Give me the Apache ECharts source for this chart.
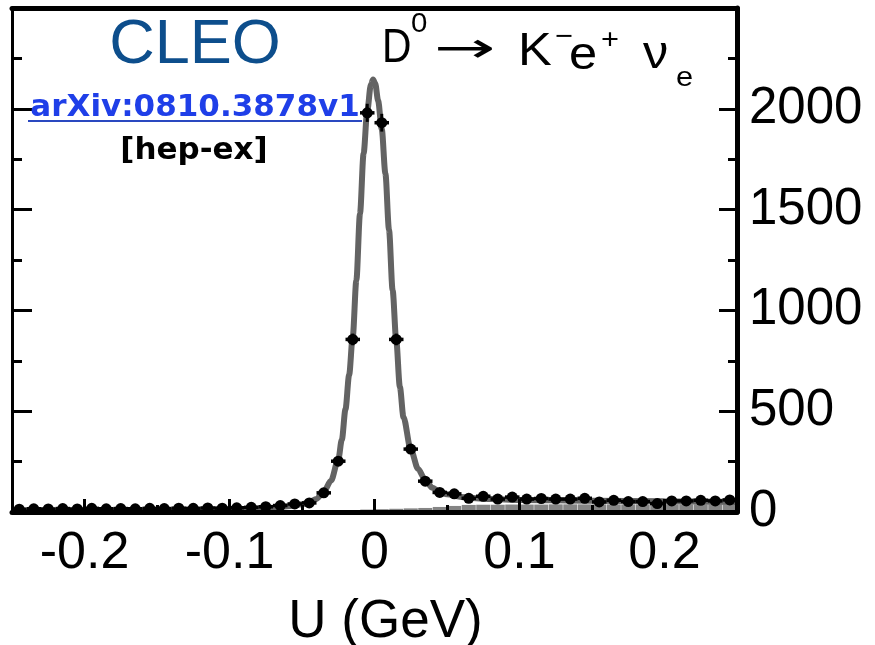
<!DOCTYPE html>
<html><head><meta charset="utf-8">
<script src="https://cdn.jsdelivr.net/npm/echarts@6/dist/echarts.min.js"></script>
<style>html,body{margin:0;padding:0;background:#fff}#c{width:875px;height:645px}</style>
</head><body><div id="c"></div>
<script>
// ---- data ----
const binCenters = [-0.245,-0.235,-0.225,-0.215,-0.205,-0.195,-0.185,-0.175,-0.165,-0.155,-0.145,-0.135,-0.125,-0.115,-0.105,-0.095,-0.085,-0.075,-0.065,-0.055,-0.045,-0.035,-0.025,-0.015,-0.005,0.005,0.015,0.025,0.035,0.045,0.055,0.065,0.075,0.085,0.095,0.105,0.115,0.125,0.135,0.145,0.155,0.165,0.175,0.185,0.195,0.205,0.215,0.225,0.235,0.245];
const counts = [14,16,15,17,15,18,16,17,16,18,17,19,18,20,19,21,23,26,32,40,45,95,252,856,1980,1931,856,312,153,97,90,68,78,64,74,64,67,64,64,68,50,58,52,52,42,55,55,58,55,60];
const countErr = [4,4,4,4,4,4,4,4,4,4,4,4,4,4,4,5,5,5,6,6,7,10,16,29,45,44,29,18,12,10,9,8,9,8,9,8,8,8,8,8,7,8,7,7,6,7,7,8,7,8];
const bgCounts = [0,0,0,0,0,0,0,0,0,0,0,0,0,0,0,0,0,0,0,3,5,6,8,10,12,14,16,18,20,25,30,35,36,36,37,37,37,38,38,38,38,38,38,38,38,38,38,38,38,38];
const curveU = [-0.25,-0.2,-0.15,-0.1,-0.08,-0.07,-0.06,-0.05,-0.045,-0.04,-0.035,-0.03,-0.025,-0.0225,-0.02,-0.0175,-0.015,-0.0125,-0.01,-0.0075,-0.005,-0.0025,-0.001,0.0005,0.0025,0.005,0.0075,0.01,0.0125,0.015,0.0175,0.02,0.025,0.03,0.035,0.04,0.045,0.05,0.06,0.07,0.08,0.1,0.15,0.2,0.25];
const curveY = [3,5,7,12,17,21,28,38,48,65,100,155,260,360,510,680,870,1150,1480,1780,1990,2120,2145,2125,2040,1900,1680,1400,1100,850,620,470,310,215,158,120,100,88,75,68,64,60,56,53,50];
const xTickValues = [-0.2,-0.1,0,0.1,0.2];
const xMinorTickValues = [-0.15,-0.05,0.05,0.15];
const yTickLabels = [0,500,1000,1500,2000];
const binHalfWidth = 0.005;

const chart = echarts.init(document.getElementById('c'), null, {renderer:'canvas'});
const FONT = '"Liberation Sans", Arial, Helvetica, sans-serif';

const pts = binCenters.map((u,i)=>[u, counts[i], countErr[i]]);

function txt(text,x,y,size,sx,font){
  return {type:'text',z:20,scaleX:sx||1,x:x,y:y,
    style:{text:text,x:0,y:0,align:'left',verticalAlign:'middle',fontSize:size,fontFamily:font||FONT,fill:'#000'}};
}

const option = {
  animation:false,
  grid:{left:12,right:138,top:8,bottom:133,containLabel:false,outerBoundsMode:'none'},
  xAxis:[
    {type:'value',min:-0.25,max:0.25,position:'bottom',z:10,
     axisLine:{show:true,onZero:false,lineStyle:{color:'#000',width:5}},
     axisTick:{show:true,inside:true,length:13,customValues:xTickValues,lineStyle:{color:'#000',width:3}},
     axisLabel:{show:true,customValues:xTickValues,margin:16,color:'#000',fontSize:52,fontFamily:FONT,
       formatter:v=>v===0?'0':(v<0?'-':'')+Math.abs(v).toFixed(1)},
     splitLine:{show:false},
     name:'U (GeV)',nameLocation:'middle',nameGap:84,
     nameTextStyle:{color:'#000',fontSize:53,fontFamily:FONT,padding:[0,0,0,22]}},
    {type:'value',min:-0.25,max:0.25,position:'bottom',z:10,
     axisLine:{show:false},
     axisTick:{show:true,inside:true,length:7,customValues:xMinorTickValues,lineStyle:{color:'#000',width:3}},
     axisLabel:{show:false},splitLine:{show:false}},
    {type:'value',min:-0.25,max:0.25,position:'top',z:10,
     axisLine:{show:true,onZero:false,lineStyle:{color:'#000',width:5}},
     axisTick:{show:false},axisLabel:{show:false},splitLine:{show:false}}
  ],
  yAxis:[
    {type:'value',min:0,max:2500,interval:500,position:'right',z:10,
     axisLine:{show:true,onZero:false,lineStyle:{color:'#000',width:5}},
     axisTick:{show:true,inside:true,length:18,lineStyle:{color:'#000',width:3}},
     minorTick:{show:true,splitNumber:2,length:9,lineStyle:{color:'#000',width:3}},
     axisLabel:{show:true,customValues:yTickLabels,margin:12,color:'#000',fontSize:51,fontFamily:FONT,
       formatter:v=>String(v)},
     splitLine:{show:false},minorSplitLine:{show:false}},
    {type:'value',min:0,max:2500,interval:500,position:'left',z:10,
     axisLine:{show:true,onZero:false,lineStyle:{color:'#000',width:3}},
     axisTick:{show:true,inside:true,length:20,lineStyle:{color:'#000',width:3}},
     minorTick:{show:true,splitNumber:2,length:10,lineStyle:{color:'#000',width:3}},
     axisLabel:{show:false},splitLine:{show:false},minorSplitLine:{show:false}}
  ],
  series:[
    {type:'bar',xAxisIndex:0,yAxisIndex:0,barWidth:14,z:1,
     itemStyle:{color:'#858585'},
     data:binCenters.map((u,i)=>[u,bgCounts[i]])},
    {type:'line',xAxisIndex:0,yAxisIndex:0,showSymbol:false,smooth:0.3,smoothMonotone:'x',z:3,
     lineStyle:{color:'#636363',width:6},
     data:curveU.map((u,i)=>[u,curveY[i]])},
    {type:'custom',xAxisIndex:0,yAxisIndex:0,z:5,
     data:pts,
     renderItem:function(params,api){
       const u=api.value(0), v=api.value(1), e=api.value(2);
       const c=api.coord([u,v]);
       const l=api.coord([u-binHalfWidth,v]);
       const r=api.coord([u+binHalfWidth,v]);
       const t=api.coord([u,v+e]);
       const b=api.coord([u,v-e]);
       return {type:'group',children:[
         {type:'line',shape:{x1:l[0],y1:l[1],x2:r[0],y2:r[1]},style:{stroke:'#000',lineWidth:3.5}},
         {type:'line',shape:{x1:t[0],y1:t[1],x2:b[0],y2:b[1]},style:{stroke:'#000',lineWidth:3}},
         {type:'circle',shape:{cx:c[0],cy:c[1],r:5.5},style:{fill:'#000'}}
       ]};
     }}
  ],
  graphic:[
    {type:'text',z:20,style:{text:'CLEO',x:195,y:46,align:'center',verticalAlign:'middle',fontSize:63,fontFamily:FONT,fill:'#0d4e8c'}},
    {type:'text',z:20,style:{text:'arXiv:0810.3878v1',x:195,y:108,align:'center',verticalAlign:'middle',fontSize:31,fontWeight:'bold',fontFamily:'"DejaVu Sans", sans-serif',fill:'#1f3fe8'}},
    {type:'line',z:20,shape:{x1:28,y1:121,x2:362,y2:121},style:{stroke:'#2a48c0',lineWidth:2}},
    {type:'text',z:20,style:{text:'[hep-ex]',x:194,y:151,align:'center',verticalAlign:'middle',fontSize:31,fontWeight:'bold',fontFamily:'"DejaVu Sans", sans-serif',fill:'#000'}},
    txt('D',382,49,48,0.85),
    txt('0',411,24,28,1.05),
    txt('→',434,51,42,1.75,'"DejaVu Sans", sans-serif'),
    txt('K',518,52,46,1.1),
    txt('−',555,37,28,1.1),
    txt('e',569,56,46,1.1),
    txt('+',601,40,28,1.1),
    txt('ν',643,55,46,1.1),
    txt('e',676,78,28,1.1)
  ]
};
chart.setOption(option);
</script></body></html>
